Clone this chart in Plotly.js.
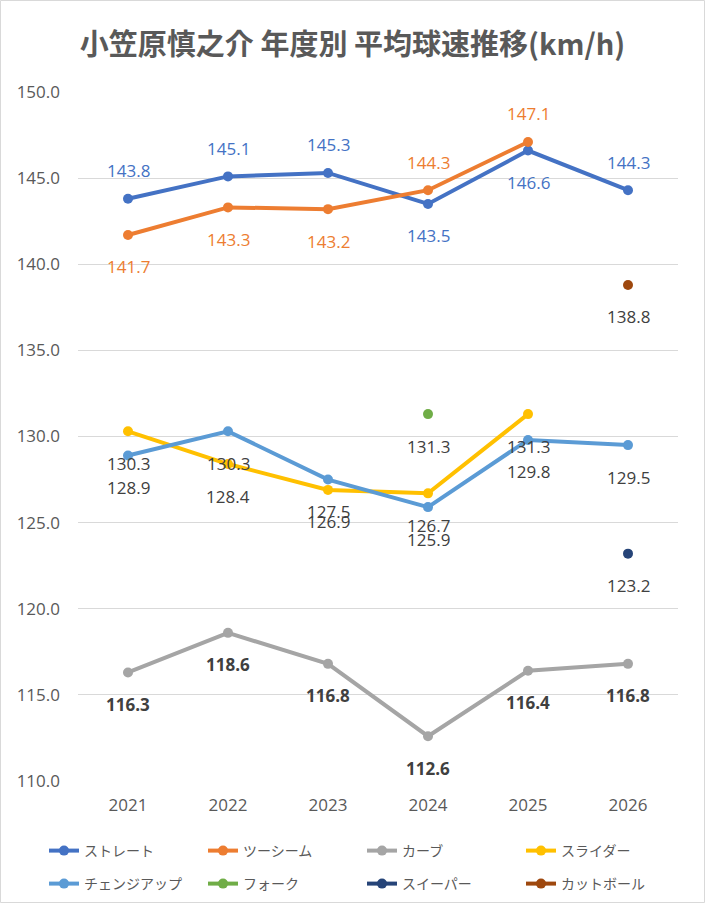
<!DOCTYPE html>
<html>
<head>
<meta charset="utf-8">
<script src="https://cdn.plot.ly/plotly-3.0.1.min.js"></script>
<style>
html, body { margin: 0; padding: 0; background: #fff; }
#chart { width: 705px; height: 903px; }
</style>
</head>
<body>
<div id="chart"></div>
<script>
// data
var years = ['2021', '2022', '2023', '2024', '2025', '2026'];

var straight = [143.8, 145.1, 145.3, 143.5, 146.6, 144.3];
var twoSeam  = [141.7, 143.3, 143.2, 144.3, 147.1, null];
var curve    = [116.3, 118.6, 116.8, 112.6, 116.4, 116.8];
var slider   = [130.3, 128.4, 126.9, 126.7, 131.3, null];
var changeUp = [128.9, 130.3, 127.5, 125.9, 129.8, 129.5];
var fork     = [null, null, null, 131.3, null, null];
var sweeper  = [null, null, null, null, null, 123.2];
var cutter   = [null, null, null, null, null, 138.8];

var yTicks = [110, 115, 120, 125, 130, 135, 140, 145, 150];

// where each data label sits: a = above point, b = below
var straightSide = ['a', 'a', 'a', 'b', 'b', 'a'];
var twoSeamSide  = ['b', 'b', 'b', 'a', 'a', 'b'];

var series = [
  {name: 'ストレート', y: straight, color: '#4472C4', label: '#4472C4', side: straightSide},
  {name: 'ツーシーム', y: twoSeam, color: '#ED7D31', label: '#ED7D31', side: twoSeamSide},
  {name: 'カーブ', y: curve, color: '#A5A5A5', label: '#404040', bold: true},
  {name: 'スライダー', y: slider, color: '#FFC000', label: '#404040'},
  {name: 'チェンジアップ', y: changeUp, color: '#5B9BD5', label: '#404040'},
  {name: 'フォーク', y: fork, color: '#70AD47', label: '#404040'},
  {name: 'スイーパー', y: sweeper, color: '#264478', label: '#404040'},
  {name: 'カットボール', y: cutter, color: '#9E480E', label: '#404040'}
];

// legend grid: 4 columns x 2 rows (pixel positions in the page)
var legendCols = [44, 203, 362, 521];
var legendRows = [851, 884];

var data = [];
var annotations = [];
var layoutLegends = {};

series.forEach(function(s, k) {
  var key = k == 0 ? 'legend' : 'legend' + (k + 1);
  data.push({
    type: 'scatter',
    mode: 'lines+markers',
    name: s.name,
    x: years,
    y: s.y,
    legend: key,
    line: {color: s.color, width: 4},
    marker: {color: s.color, size: 10},
    connectgaps: false
  });
  layoutLegends[key] = {
    orientation: 'h',
    xref: 'container', yref: 'container',
    x: legendCols[k % 4] / 705,
    y: 1 - legendRows[Math.floor(k / 4)] / 903,
    xanchor: 'left', yanchor: 'middle',
    bgcolor: 'rgba(0,0,0,0)',
    font: {family: 'Noto Sans CJK JP, sans-serif', size: 14, color: '#595959'}
  };
  for (var i = 0; i < years.length; i++) {
    var v = s.y[i];
    if (v === null) continue;
    var side = s.side ? s.side[i] : 'b';
    var txt = v.toFixed(1);
    annotations.push({
      x: i, y: v, xref: 'x', yref: 'y',
      text: s.bold ? '<b>' + txt + '</b>' : txt,
      showarrow: false,
      xanchor: 'center',
      yanchor: 'middle',
      yshift: side == 'a' ? 28 : -32,
      font: {family: 'Open Sans, sans-serif', size: 17, color: s.label}
    });
  }
});

var layout = {
  width: 705,
  height: 903,
  margin: {l: 78, r: 27, t: 92, b: 122, pad: 0},
  paper_bgcolor: '#ffffff',
  plot_bgcolor: '#ffffff',
  font: {family: 'Open Sans, Noto Sans CJK JP, sans-serif', color: '#595959', size: 16},
  title: {
    text: '小笠原慎之介 年度別 平均球速推移(km/h)',
    font: {family: 'Noto Sans CJK JP, sans-serif', size: 29, color: '#595959', weight: 'bold'},
    x: 0.5, xref: 'container', xanchor: 'center',
    y: 1 - 45 / 903, yref: 'container', yanchor: 'middle'
  },
  xaxis: {
    type: 'category',
    range: [-0.5, 5.5],
    showgrid: false, zeroline: false, showline: false, ticks: '',
    ticklabelstandoff: 12,
    tickfont: {family: 'Open Sans, sans-serif', size: 17, color: '#595959'},
    fixedrange: true
  },
  yaxis: {
    range: [110, 150],
    tickvals: yTicks,
    tickformat: '.1f',
    showgrid: true, gridcolor: '#D9D9D9', gridwidth: 1,
    zeroline: false, showline: false, ticks: '',
    ticklabelstandoff: 17,
    automargin: false,
    tickfont: {family: 'Open Sans, sans-serif', size: 17, color: '#595959'},
    fixedrange: true
  },
  showlegend: true,
  annotations: annotations,
  shapes: [{
    type: 'rect', xref: 'paper', yref: 'paper',
    x0: (0.5 - 78) / 600, x1: (704.5 - 78) / 600,
    y0: (781 - 902.5) / 689, y1: (781 - 0.5) / 689,
    line: {color: '#D9D9D9', width: 1},
    fillcolor: 'rgba(0,0,0,0)',
    layer: 'below'
  }]
};
Object.assign(layout, layoutLegends);

Plotly.newPlot('chart', data, layout, {displayModeBar: false});
</script>
</body>
</html>
